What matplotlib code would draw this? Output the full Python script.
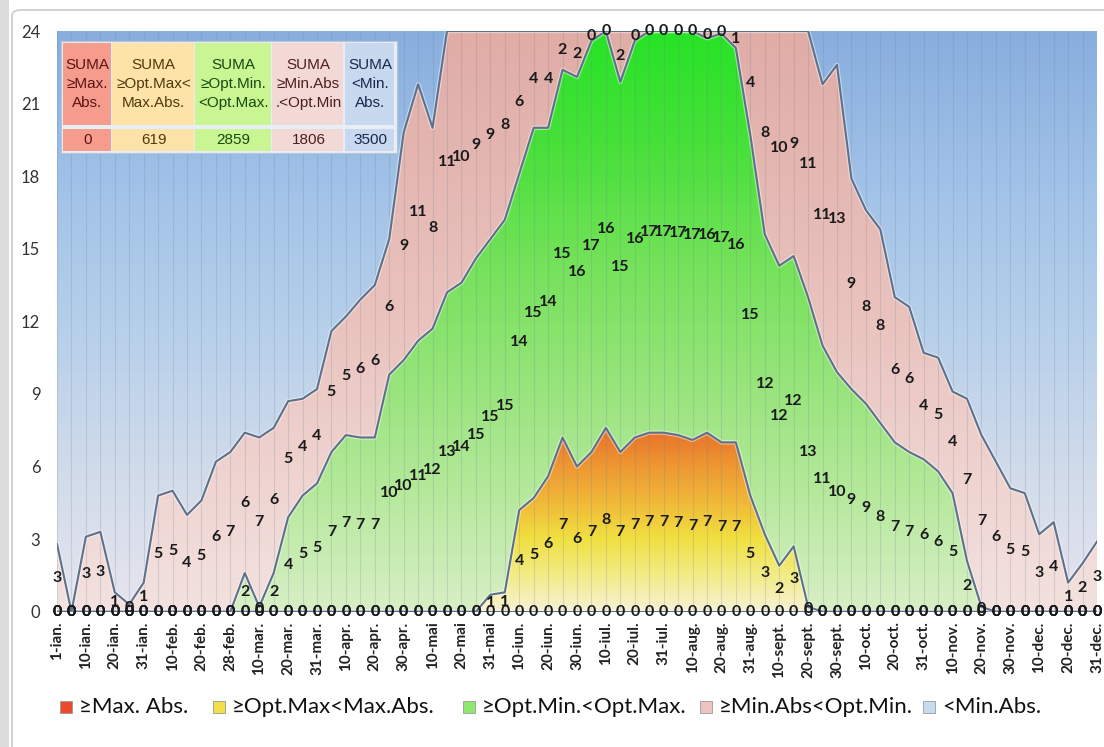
import numpy as np
import matplotlib.pyplot as plt
import matplotlib.patheffects as pe
from matplotlib.colors import LinearSegmentedColormap
from matplotlib.patches import Polygon, Rectangle, FancyBboxPatch

plt.rcParams['font.family'] = ['Lato', 'DejaVu Sans']

# etichete axa x (din 10 in 10 zile), datele sunt la 5 zile -> 73 puncte
zile = ['1-ian.', '10-ian.', '20-ian.', '31-ian.', '10-feb.', '20-feb.', '28-feb.',
        '10-mar.', '20-mar.', '31-mar.', '10-apr.', '20-apr.', '30-apr.',
        '10-mai', '20-mai', '31-mai', '10-iun.', '20-iun.', '30-iun.',
        '10-iul.', '20-iul.', '31-iul.', '10-aug.', '20-aug.', '31-aug.',
        '10-sept.', '20-sept.', '30-sept.', '10-oct.', '20-oct.', '31-oct.',
        '10-nov.', '20-nov.', '30-nov.', '10-dec.', '20-dec.', '31-dec.']

# ore pe zi in fiecare interval de temperatura
peste_max_abs = [0, 0, 0, 0, 0, 0, 0, 0, 0, 0,
                 0, 0, 0, 0, 0, 0, 0, 0, 0, 0,
                 0, 0, 0, 0, 0, 0, 0, 0, 0, 0,
                 0, 0, 0, 0, 0, 0, 0, 0, 0, 0,
                 0, 0, 0, 0, 0, 0, 0, 0, 0, 0,
                 0, 0, 0, 0, 0, 0, 0, 0, 0, 0,
                 0, 0, 0, 0, 0, 0, 0, 0, 0, 0,
                 0, 0, 0]
opt_max = [0, 0, 0, 0, 0, 0, 0, 0, 0, 0,
           0, 0, 0, 0, 0, 0, 0, 0, 0, 0,
           0, 0, 0, 0, 0, 0, 0, 0, 0, 0,
           0.7, 0.8, 4.2, 4.7, 5.6, 7.2, 6.0, 6.6, 7.6, 6.6,
           7.2, 7.4, 7.4, 7.3, 7.1, 7.4, 7.0, 7.0, 4.8, 3.2,
           1.9, 2.7, 0.2, 0, 0, 0, 0, 0, 0, 0,
           0, 0, 0, 0, 0, 0, 0, 0, 0, 0,
           0, 0, 0]
opt_min = [0, 0, 0, 0, 0, 0, 0, 0, 0, 0,
           0, 0, 0, 1.6, 0.2, 1.6, 3.9, 4.8, 5.3, 6.6,
           7.3, 7.2, 7.2, 9.8, 10.4, 11.2, 11.7, 13.2, 13.6, 14.6,
           14.7, 15.4, 13.9, 15.3, 14.4, 15.2, 16.1, 17.0, 16.4, 15.3,
           16.4, 16.6, 16.6, 16.7, 16.9, 16.3, 16.9, 16.3, 14.9, 12.4,
           12.4, 12.0, 12.8, 11.0, 9.9, 9.2, 8.6, 7.8, 7.0, 6.6,
           6.3, 5.8, 4.9, 2.1, 0.2, 0, 0, 0, 0, 0,
           0, 0, 0]
min_abs = [2.8, 0.0, 3.1, 3.3, 0.8, 0.3, 1.2, 4.8, 5.0, 4.0,
           4.6, 6.2, 6.6, 5.8, 7.0, 6.0, 4.8, 4.0, 3.9, 5.0,
           4.9, 5.7, 6.3, 5.6, 9.4, 10.6, 8.3, 10.8, 10.4, 9.4,
           8.6, 7.8, 5.9, 4.0, 4.0, 1.6, 1.9, 0.4, 0.0, 2.1,
           0.4, 0.0, 0.0, 0.0, 0.0, 0.3, 0.1, 0.7, 4.3, 8.4,
           9.7, 9.3, 11.0, 10.8, 12.7, 8.7, 8.0, 8.0, 6.0, 6.0,
           4.4, 4.7, 4.2, 6.7, 7.1, 6.2, 5.1, 4.9, 3.2, 3.7,
           1.2, 2.0, 2.9]
sub_min_abs = [21.2, 24.0, 20.9, 20.7, 23.2, 23.7, 22.8, 19.2, 19.0, 20.0,
               19.4, 17.8, 17.4, 16.6, 16.8, 16.4, 15.3, 15.2, 14.8, 12.4,
               11.8, 11.1, 10.5, 8.6, 4.2, 2.2, 4.0, 0, 0, 0,
               0, 0, 0, 0, 0, 0, 0, 0, 0, 0,
               0, 0, 0, 0, 0, 0, 0, 0, 0, 0,
               0, 0, 0, 2.2, 1.4, 6.1, 7.4, 8.2, 11.0, 11.4,
               13.3, 13.5, 14.9, 15.2, 16.7, 17.8, 18.9, 19.1, 20.8, 20.3,
               22.8, 22.0, 21.1]

antet = ['SUMA\n≥Max.\nAbs.', 'SUMA\n≥Opt.Max<\nMax.Abs.', 'SUMA\n≥Opt.Min.\n<Opt.Max.',
         'SUMA\n≥Min.Abs\n.<Opt.Min', 'SUMA\n<Min.\nAbs.']
sume = [0, 619, 2859, 1806, 3500]
legenda = ['≥Max. Abs.', '≥Opt.Max<Max.Abs.', '≥Opt.Min.<Opt.Max.', '≥Min.Abs<Opt.Min.', '<Min.Abs.']

W, H = 1104, 747
def fx(px): return px / W
def fy(py): return 1 - py / H

fig = plt.figure(figsize=(W / 100, H / 100), dpi=100)
fig.add_artist(Rectangle((0, 0), fx(9), 1, facecolor='#dcdcdc', edgecolor='none', zorder=-5))
fig.add_artist(FancyBboxPatch((fx(12), fy(747) - 0.01), 1.0, fy(10) - fy(747) + 0.01,
                              boxstyle='round,pad=0,rounding_size=0.008',
                              facecolor='white', edgecolor='#cccccc', lw=1.2, zorder=-4))

ax = fig.add_axes([fx(57), fy(611.7), fx(1097) - fx(57), (611.7 - 31) / H])

x = np.arange(len(min_abs))
serii = [peste_max_abs, opt_max, opt_min, min_abs, sub_min_abs]
sus = np.cumsum(np.array(serii, dtype=float), axis=0)
jos = np.vstack([np.zeros(len(x)), sus[:-1]])

gradiente = [
    (['#f7d0c0', '#f07048', '#e02a20'], 0, 2),
    (['#f7f2d6', '#f2ec86', '#f0e040', '#f0b838', '#ee9632', '#e8702a'], 0, 7.6),
    (['#d8efc6', '#b6e99c', '#96e47a', '#74e25a', '#48e03a', '#26e426'], 0, 24),
    (['#f3e2df', '#eac3be', '#e0aca6'], 0, 24),
    (['#e6e5ee', '#d0dbea', '#b5cfea', '#a0c1e7', '#88aede'], 0, 24),
]

def umple(ax, x, y0, y1, culori, vmin, vmax):
    verts = np.concatenate([np.column_stack([x, y1]), np.column_stack([x[::-1], y0[::-1]])])
    poly = Polygon(verts, closed=True, facecolor='none', edgecolor='none')
    ax.add_patch(poly)
    cmap = LinearSegmentedColormap.from_list('c', culori)
    grad = np.linspace(0, 1, 256).reshape(-1, 1)
    im = ax.imshow(grad, cmap=cmap, aspect='auto', origin='lower',
                   extent=[x[0], x[-1], vmin, vmax], zorder=1, interpolation='bilinear')
    im.set_clip_path(poly)

for k in range(5):
    culori, vmin, vmax = gradiente[k]
    umple(ax, x, jos[k], sus[k], culori, vmin, vmax)

ax.vlines(x, 0, 24, colors='#6f8199', alpha=0.22, lw=0.8, zorder=2)

for k in range(4):
    ax.plot(x, sus[k], color='#5f708a', lw=1.5, zorder=3,
            path_effects=[pe.Stroke(linewidth=3.2, foreground='white', alpha=0.45), pe.Normal()])

for k in range(4):
    for i in x:
        v = serii[k][i]
        ax.text(i, jos[k][i] + v / 2, f'{v:.0f}', ha='center', va='center',
                fontsize=11.5, fontweight='bold', color='#1a1a1a', zorder=5)

ax.set_xlim(0, 72)
ax.set_ylim(0, 24)
ax.set_yticks(range(0, 25, 3))
ax.set_xticks(x[::2])
ax.set_xticklabels(zile, rotation=90, fontweight='bold', fontsize=11)
ax.tick_params(axis='y', length=0, pad=12, labelsize=12, labelcolor='#333333')
ax.tick_params(axis='x', length=0, pad=7, labelcolor='#222222')
for s in ax.spines.values():
    s.set_visible(False)

# tabelul cu sume
col = [63, 112, 195, 272, 345, 395]
fond = ['#f59c8c', '#fee3a8', '#c9f593', '#f3d9d6', '#c8d9ef']
text_c = ['#5e1414', '#4f3a0c', '#174a0e', '#4e1e1e', '#16294c']
fig.add_artist(Rectangle((fx(61), fy(153)), fx(397) - fx(61), fy(41) - fy(153),
                         facecolor='#e8eef6', edgecolor='#b8c4d4', lw=0.8, zorder=6))
for j in range(5):
    w = fx(col[j + 1]) - fx(col[j]) - fx(1.5)
    fig.add_artist(Rectangle((fx(col[j]), fy(125)), w, fy(43) - fy(125),
                             facecolor=fond[j], edgecolor='none', zorder=7))
    fig.add_artist(Rectangle((fx(col[j]), fy(151)), w, fy(129) - fy(151),
                             facecolor=fond[j], edgecolor='none', zorder=7))
    cx = fx((col[j] + col[j + 1]) / 2)
    fig.text(cx, fy(84), antet[j], ha='center', va='center', fontsize=11, linespacing=1.45,
             color=text_c[j], family=['Liberation Sans', 'DejaVu Sans'], zorder=8)
    fig.text(cx, fy(140), str(sume[j]), ha='center', va='center', fontsize=11,
             color=text_c[j], family=['Liberation Sans', 'DejaVu Sans'], zorder=8)

# legenda
leg_x = [60, 213, 463, 700, 923]
leg_c = ['#ec4a2c', '#f3df48', '#8ee86e', '#efc3bf', '#c6daf0']
for j in range(5):
    fig.add_artist(Rectangle((fx(leg_x[j]), fy(713)), fx(12), fy(701) - fy(713),
                             facecolor=leg_c[j], edgecolor='#9a9a9a', lw=0.6))
    fig.text(fx(leg_x[j] + 19), fy(707), legenda[j], ha='left', va='center',
             fontsize=16, color='#111111')

fig.savefig('out.png', dpi=100)
